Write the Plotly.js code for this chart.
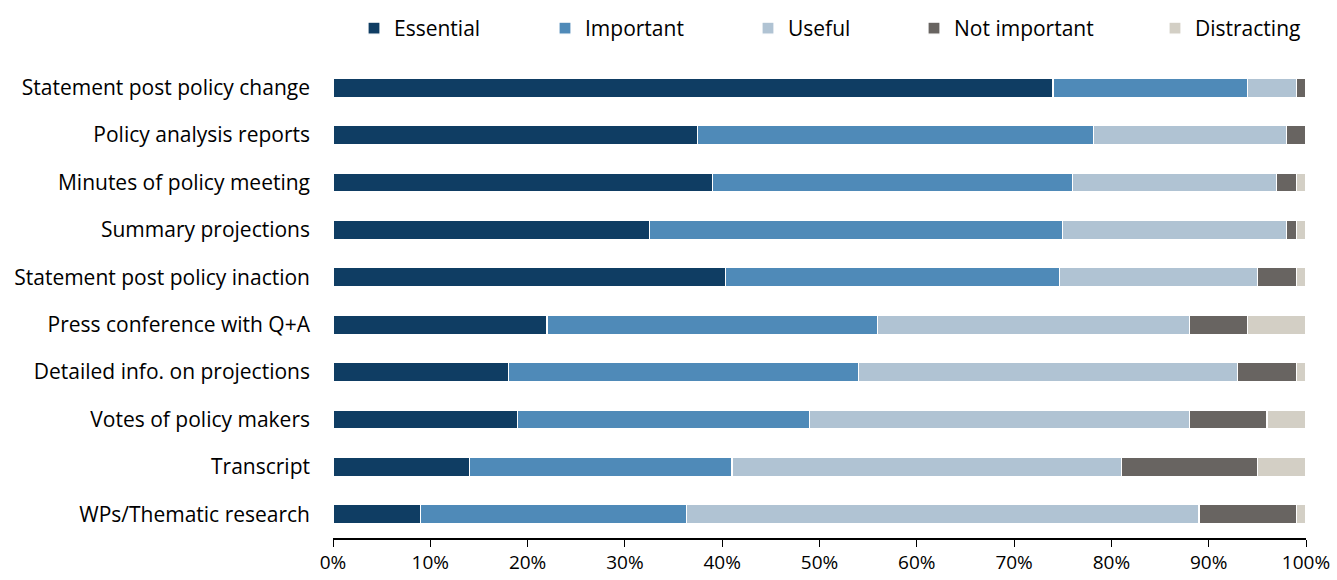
<!DOCTYPE html>
<html><head><meta charset="utf-8">
<script src="https://cdn.plot.ly/plotly-3.0.1.min.js"></script>
<style>body{margin:0;background:#fff}#chart{width:1337px;height:580px}</style>
</head><body><div id="chart"></div>
<script>
const categories = [
  "Statement post policy change",
  "Policy analysis reports",
  "Minutes of policy meeting",
  "Summary projections",
  "Statement post policy inaction",
  "Press conference with Q+A",
  "Detailed info. on projections",
  "Votes of policy makers",
  "Transcript",
  "WPs/Thematic research"
];
const essential    = [74, 37.5, 39, 32.5, 40.3, 22, 18, 19, 14, 9];
const important    = [20, 40.7, 37, 42.5, 34.4, 34, 36, 30, 27, 27.3];
const useful       = [5, 19.8, 21, 23, 20.3, 32, 39, 39, 40, 52.7];
const notImportant = [1, 2, 2, 1, 4, 6, 6, 8, 14, 10];
const distracting  = [0, 0, 1, 1, 1, 6, 1, 4, 5, 1];
const seriesNames  = ["Essential", "Important", "Useful", "Not important", "Distracting"];
const seriesColors = ["#0f3d63", "#4f8ab8", "#b0c3d3", "#686461", "#d3cfc5"];
const xTickVals = [0,10,20,30,40,50,60,70,80,90,100];
const xTickText = xTickVals.map(v => v + "%");

const font = "Open Sans, Liberation Sans, Arial, sans-serif";
const legendIds = ["legend", "legend2", "legend3", "legend4", "legend5"];
const legendTextStart = [397, 588, 791, 957, 1198];  // layout positions (px)

const allSeries = [essential, important, useful, notImportant, distracting];
const traces = allSeries.map((vals, i) => ({
  type: "bar",
  orientation: "h",
  name: seriesNames[i],
  legend: legendIds[i],
  y: categories,
  x: vals,
  marker: {color: seriesColors[i], line: {color: "#ffffff", width: 1.2}},
  hoverinfo: "x+y+name"
}));

const layout = {
  width: 1337, height: 580,
  margin: {l: 333, r: 31, t: 64, b: 42},
  barmode: "stack",
  bargap: 0.6,
  paper_bgcolor: "#fff", plot_bgcolor: "#fff",
  font: {family: font, size: 21, color: "#000"},
  showlegend: true,
  xaxis: {range: [0, 100], tickvals: xTickVals, ticktext: xTickText,
          showgrid: false, zeroline: false, showline: true, linecolor: "#000", linewidth: 1.5,
          ticks: "outside", ticklen: 7, tickcolor: "#000", tickwidth: 1,
          tickfont: {family: font, size: 19, color: "#000"}, fixedrange: true},
  yaxis: {autorange: "reversed", showgrid: false, zeroline: false, showline: false,
          ticks: "", ticklabelstandoff: 22,
          tickfont: {family: font, size: 21, color: "#000"}, fixedrange: true}
};
legendIds.forEach((id, i) => {
  layout[id] = {orientation: "h", x: (legendTextStart[i] - 43 - 333) / 973, xanchor: "left",
                y: 1 - 8/580, yanchor: "top", yref: "container",
                font: {family: font, size: 21, color: "#000"}, itemwidth: 30,
                bgcolor: "rgba(0,0,0,0)"};
});
Plotly.newPlot("chart", traces, layout, {displayModeBar: false, staticPlot: true});
</script></body></html>
